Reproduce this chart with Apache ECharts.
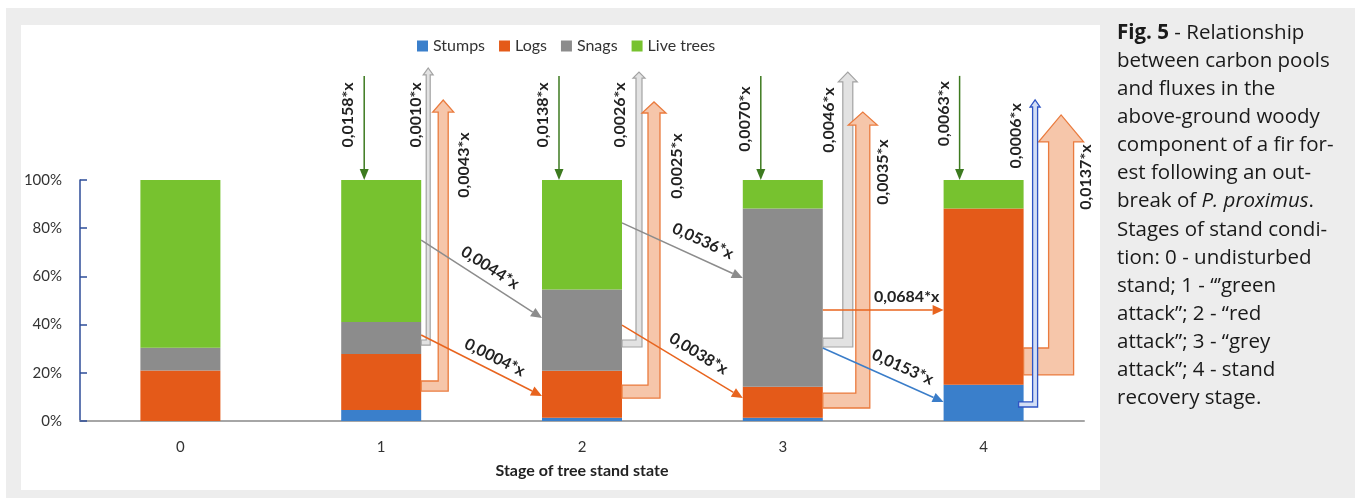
<!DOCTYPE html>
<html><head><meta charset="utf-8">
<script src="https://cdn.jsdelivr.net/npm/echarts@6/dist/echarts.min.js"></script>
<style>
html,body{margin:0;padding:0;background:#fff;}
#bg{position:absolute;left:6px;top:8px;width:1349px;height:490px;background:#ededed;}
#panel{position:absolute;left:21px;top:25px;width:1079px;height:465px;background:#fff;}
#chart{position:absolute;left:0;top:0;width:1355px;height:499px;}
</style></head><body>
<div id="bg"></div><div id="panel"></div><div id="chart"></div>
<script>
// ---------- data ----------
const stages = ['0', '1', '2', '3', '4'];
const seriesNames = ['Stumps', 'Logs', 'Snags', 'Live trees'];
const stumps = [0, 4.6, 1.4, 1.4, 15.0];
const logs = [21.0, 23.2, 19.5, 12.8, 73.2];
const snags = [9.4, 13.3, 33.7, 74.0, 0];
const liveTrees = [69.6, 58.9, 45.4, 11.8, 11.8];
const inputFlux = ['0,0158*x', '0,0138*x', '0,0070*x', '0,0063*x'];      // stages 1-4
const snagOutFlux = ['0,0010*x', '0,0026*x', '0,0046*x'];                 // stages 1-3
const logOutFlux = ['0,0043*x', '0,0025*x', '0,0035*x', '0,0137*x'];      // stages 1-4
const stumpOutFlux = ['0,0006*x'];                                         // stage 4
const transferFlux = ['0,0044*x', '0,0004*x', '0,0536*x', '0,0038*x', '0,0684*x', '0,0153*x'];
const captionLines = [
  '{b|Fig. 5} - Relationship',
  'between carbon pools',
  'and fluxes in the',
  'above-ground woody',
  'component of a fir for-',
  'est following an out-',
  'break of {i|P. proximus}.',
  'Stages of stand condi-',
  'tion: 0 - undisturbed',
  'stand; 1 - \u201c\u2019green',
  'attack\u201d; 2 - \u201cred',
  'attack\u201d; 3 - \u201cgrey',
  'attack\u201d; 4 - stand',
  'recovery stage.'
];

// ---------- layout (annotation geometry, in axis units / px offsets) ----------
const snagOutGeom = [
  {stage:1, cx:7,  hw:2, hh:5,   band:[33.6,31.5], tip:146.5, base:143.6, lab:[-5,127]},
  {stage:2, cx:17, hw:3, hh:6,   band:[33.6,30.7], tip:144.8, base:142.3, lab:[-2,127]},
  {stage:3, cx:25, hw:5, hh:9.5, band:[34.4,30.7], tip:144.8, base:140.7, lab:[6,124.9]}
];
const logOutGeom = [
  {stage:1, cx:22,   hw:5,    hh:10.5, band:[16.6,12.4], tip:133.2, base:128.2, lab:[43,106.2]},
  {stage:2, cx:32,   hw:6,    hh:12,   band:[14.9,9.5],  tip:132.4, base:127.8, lab:[55,105.8]},
  {stage:3, cx:40,   hw:7,    hh:14.5, band:[11.6,5.4],  tip:128.2, base:122.8, lab:[60,103.3]},
  {stage:4, cx:37.5, hw:12.5, hh:22.5, band:[30.3,19.1], tip:127,   base:115.8, lab:[62,101.2]}
];
const stumpOutGeom = [
  {stage:4, cx:11.5, hw:2.5, hh:5, band:[7.9,5.8], tip:133.2, base:130.3, lab:[-8,118.3], start:-5}
];
const inputGeom = [
  {stage:1, dx:-17, top:143.2, labV:127},
  {stage:2, dx:-23, top:143.2, labV:127},
  {stage:3, dx:-22, top:143.2, labV:125.3},
  {stage:4, dx:-24, top:143.2, labV:127.5}
];
const transferGeom = [
  {from:1, v0:75.1, v1:42.7, color:'#8c8c8c', t:0.507, d:14},
  {from:1, v0:35.7, v1:10.4, color:'#e8641e', t:0.56,  d:13},
  {from:2, v0:82.2, v1:59.3, color:'#8c8c8c', t:0.61,  d:17},
  {from:2, v0:39.8, v1:9.5,  color:'#e8641e', t:0.569, d:15},
  {from:3, v0:46.1, v1:46.1, color:'#e8641e', t:0.694, d:13},
  {from:3, v0:30.3, v1:7.9,  color:'#3a7dc9', t:0.61,  d:15}
];

const FONT = 'Lato, "Open Sans", sans-serif';
const CAP_FONT = '"Open Sans", sans-serif';
const COLORS = ['#3a7fcb', '#e45a19', '#8c8c8c', '#77c22f'];
const BAR_W = 80, HALF = BAR_W / 2;

const chart = echarts.init(document.getElementById('chart'), null, {renderer: 'canvas'});
const valuesList = [stumps, logs, snags, liveTrees];
const option = {
  backgroundColor: 'transparent',
  animation: false,
  textStyle: {fontFamily: FONT},
  legend: {
    data: seriesNames, left: 412, top: 33, icon: 'rect',
    itemWidth: 11, itemHeight: 11, itemGap: 14,
    textStyle: {fontSize: 16, color: '#333', fontFamily: FONT}
  },
  grid: {left: 80, right: 271, top: 180, bottom: 78},
  xAxis: {
    type: 'category', data: stages,
    axisLine: {lineStyle: {color: '#a6a6a6', width: 2}},
    axisTick: {show: false},
    axisLabel: {fontSize: 15, color: '#333', margin: 19, fontFamily: FONT},
    name: 'Stage of tree stand state', nameLocation: 'middle', nameGap: 42,
    nameTextStyle: {fontSize: 16, fontWeight: 'bold', color: '#222', fontFamily: FONT}
  },
  yAxis: {
    type: 'value', min: 0, max: 100, interval: 20,
    axisLine: {show: true, lineStyle: {color: '#2e4d99', width: 1.5}},
    axisTick: {show: true, inside: true, length: 7, lineStyle: {color: '#2e4d99', width: 1.5}},
    splitLine: {show: false},
    axisLabel: {formatter: '{value}%', fontSize: 15, color: '#333', margin: 18, fontFamily: FONT}
  },
  series: seriesNames.map((n, k) => ({
    name: n, type: 'bar', stack: 'total', barWidth: BAR_W,
    itemStyle: {color: COLORS[k]}, data: valuesList[k]
  }))
};
chart.setOption(option);

function P(i, v) { return chart.convertToPixel({xAxisIndex: 0, yAxisIndex: 0}, [i, v]); }
function Y(v) { return P(0, v)[1]; }
function label(x, y, text, rot) {
  return {type: 'text', x: x, y: y, rotation: rot || 0, z: 101,
    style: {text: text, fontSize: 16, fontWeight: 'bold', fontFamily: FONT, fill: '#222',
      align: 'center', verticalAlign: 'middle'}};
}
function arrowLine(x0, y0, x1, y1, color, width, headLen, headHalf) {
  const dx = x1 - x0, dy = y1 - y0, L = Math.hypot(dx, dy), ux = dx / L, uy = dy / L;
  const bx = x1 - ux * headLen, by = y1 - uy * headLen;
  return [
    {type: 'line', z: 100, shape: {x1: x0, y1: y0, x2: bx, y2: by}, style: {stroke: color, lineWidth: width}},
    {type: 'polygon', z: 100, shape: {points: [[x1, y1], [bx - uy * headHalf, by + ux * headHalf], [bx + uy * headHalf, by - ux * headHalf]]},
      style: {fill: color}}
  ];
}
function elbow(g, fill, stroke, lw) {
  const R = P(g.stage, 0)[0] + HALF;
  const x0 = R + (g.start || 0);
  const yt = Y(g.band[0]), yb = Y(g.band[1]);
  const c = R + g.cx, sL = c - g.hw, sR = c + g.hw;
  const tip = Y(g.tip), base = Y(g.base);
  return {type: 'polygon', z: 99, shape: {points: [
    [x0, yt], [sL, yt], [sL, base], [c - g.hh, base], [c, tip], [c + g.hh, base], [sR, base], [sR, yb], [x0, yb]
  ]}, style: {fill: fill, stroke: stroke, lineWidth: lw}};
}

function build() {
  const els = [];
  inputGeom.forEach((g, k) => {
    const x = P(g.stage, 0)[0] + g.dx;
    els.push(...arrowLine(x, Y(g.top), x, Y(100), '#3d7a1f', 1.5, 11, 4.5));
    els.push(label(x - 16, Y(g.labV), inputFlux[k], Math.PI / 2));
  });
  snagOutGeom.forEach((g, k) => {
    els.push(elbow(g, '#e2e2e2', '#a3a3a3', 1.2));
    const R = P(g.stage, 0)[0] + HALF;
    els.push(label(R + g.lab[0], Y(g.lab[1]), snagOutFlux[k], Math.PI / 2));
  });
  logOutGeom.forEach((g, k) => {
    els.push(elbow(g, '#f6c6aa', '#ea7b3e', 1.3));
    const R = P(g.stage, 0)[0] + HALF;
    els.push(label(R + g.lab[0], Y(g.lab[1]), logOutFlux[k], Math.PI / 2));
  });
  stumpOutGeom.forEach((g, k) => {
    els.push(elbow(g, '#d3def5', '#2f54c4', 1.3));
    const R = P(g.stage, 0)[0] + HALF;
    els.push(label(R + g.lab[0], Y(g.lab[1]), stumpOutFlux[k], Math.PI / 2));
  });
  transferGeom.forEach((g, k) => {
    const x0 = P(g.from, 0)[0] + HALF, y0 = Y(g.v0);
    const x1 = P(g.from + 1, 0)[0] - HALF, y1 = Y(g.v1);
    els.push(...arrowLine(x0, y0, x1, y1, g.color, 1.5, 11, 5));
    const dx = x1 - x0, dy = y1 - y0, L = Math.hypot(dx, dy), ux = dx / L, uy = dy / L;
    const nx = uy, ny = -ux;
    const px = x0 + dx * g.t + nx * g.d, py = y0 + dy * g.t + ny * g.d;
    els.push(label(px, py, transferFlux[k], -Math.atan2(dy, dx)));
  });
  captionLines.forEach((t, i) => {
    els.push({type: 'text', x: 1117, y: 33 + i * 28.1, z: 101,
      style: {text: t, fontSize: 20.5, fontFamily: CAP_FONT, fill: '#1a1a1a',
        align: 'left', verticalAlign: 'middle',
        rich: {
          b: {fontSize: 20.5, fontWeight: 'bold', fontFamily: CAP_FONT, fill: '#1a1a1a'},
          i: {fontSize: 20.5, fontStyle: 'italic', fontFamily: CAP_FONT, fill: '#1a1a1a'}
        }}});
  });
  chart.setOption({graphic: els});
}
build();
</script>
</body></html>
